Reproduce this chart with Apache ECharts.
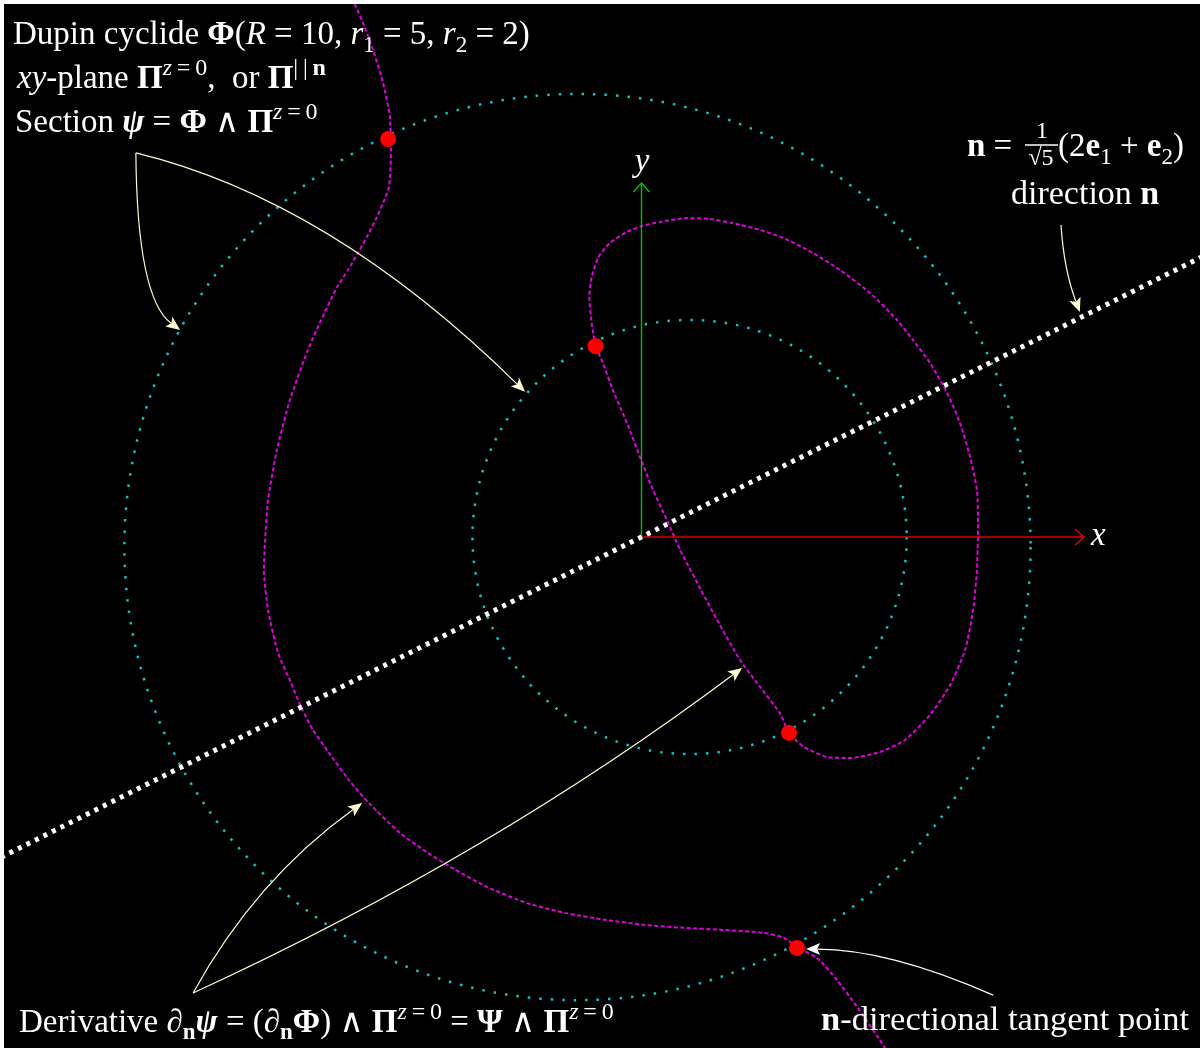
<!DOCTYPE html>
<html>
<head>
<meta charset="utf-8">
<script src="https://cdn.jsdelivr.net/npm/echarts@6/dist/echarts.min.js"></script>
<style>
  html, body { margin: 0; padding: 0; background: #fff; }
  #main { width: 1203px; height: 1048px; }
</style>
</head>
<body>
<div id="main"></div>
<script>
// ---- data (plane coordinates, units of the xy-plane) ----

// Section of the cyclide with the xy-plane: two circles [centerX, centerY, radius]
const sectionCircles = [
  [-2.17, -0.34, 15.36],
  [1.63, 0.00, 7.36]
];

// Derivative curve, outer branch (enters at the top, leaves at the bottom)
const derivativeOuter = [
  [-9.81, 18.27], [-9.44, 17.42], [-9.10, 16.51], [-8.76, 15.39], [-8.53, 14.24],
  [-8.49, 13.12], [-8.56, 11.86], [-8.76, 11.32], [-8.97, 10.85], [-9.31, 10.17],
  [-9.61, 9.63], [-9.95, 9.05], [-10.32, 8.47], [-10.86, 7.36], [-11.31, 6.34],
  [-11.92, 4.64], [-12.36, 2.95], [-12.66, 1.25], [-12.76, -0.10], [-12.80, -1.12],
  [-12.66, -2.47], [-12.32, -3.93], [-11.92, -4.85], [-11.54, -5.76], [-11.14, -6.54],
  [-10.59, -7.32], [-9.92, -8.24], [-9.24, -9.02], [-8.19, -10.03], [-7.24, -10.71],
  [-6.29, -11.29], [-5.24, -11.86], [-3.88, -12.41], [-2.56, -12.75], [-1.20, -12.98],
  [0.12, -13.15], [1.47, -13.25], [2.80, -13.32], [4.15, -13.42], [4.83, -13.59],
  [5.31, -13.93], [5.95, -14.27], [6.63, -15.02], [7.31, -15.93], [8.08, -17.05],
  [8.29, -17.39]
];

// Derivative curve, closed inner loop
const derivativeLoop = [
  [-1.56, 6.47], [-1.69, 7.25], [-1.77, 8.14], [-1.69, 8.81], [-1.46, 9.49],
  [-1.07, 9.97], [-0.50, 10.34], [0.01, 10.54], [0.63, 10.68], [1.53, 10.81],
  [2.32, 10.78], [3.10, 10.64], [4.02, 10.41], [4.80, 10.14], [5.81, 9.63],
  [6.73, 9.05], [7.75, 8.27], [8.66, 7.36], [9.20, 6.68], [9.78, 5.90],
  [10.36, 4.88], [10.80, 3.86], [11.14, 2.71], [11.37, 1.59], [11.41, 0.47],
  [11.37, -1.12], [11.24, -2.47], [10.97, -3.83], [10.46, -5.02], [9.78, -6.03],
  [8.93, -6.88], [8.08, -7.29], [7.10, -7.49], [6.29, -7.46], [5.51, -7.12],
  [5.00, -6.64], [4.69, -5.97], [4.02, -5.08], [3.34, -4.17], [2.56, -2.81],
  [2.02, -1.80], [1.31, -0.44], [0.86, 0.58], [0.39, 1.59], [-0.05, 2.71],
  [-0.49, 3.86], [-0.97, 4.98], [-1.31, 5.90], [-1.56, 6.47]
];

// n-directional tangent points (section meets derivative)
const tangentPoints = [
  [-8.59, 13.49], [-1.56, 6.47], [5.00, -6.64], [5.27, -13.93]
];

// Line through the origin along n = (2, 1)/sqrt(5)
const directionLine = [[-22.0, -11.0], [19.5, 9.75]];

// Coordinate axes: [fromX, fromY, toX, toY]
const xAxisArrow = [[0, 0, 15, 0]];
const yAxisArrow = [[0, 0, 0, 12]];

// Callout arrows: [startX, startY, controlX, controlY, endX, endY]
const sectionCallouts = [
  [-17.14, 13.02, -17.10, 8.10, -15.64, 7.02],
  [-17.14, 13.02, -10.56, 11.42, -3.95, 4.92]
];
const derivativeCallouts = [
  [-15.20, -15.46, -13.10, -11.63, -9.47, -9.02],
  [-15.20, -15.46, -5.07, -10.80, 3.41, -4.44]
];
const directionCallout = [[14.22, 10.58, 14.32, 9.05, 14.86, 7.63]];
const tangentCallout = [[11.92, -15.53, 8.37, -13.97, 5.58, -13.97]];

// ---- view ----
const W = 1203, H = 1048;
const ORIGIN_PX = [641.5, 537];
const UNIT_PX = 29.5;

const FONT = '"Liberation Serif", "DejaVu Serif", serif';
const TS = '\u2009';   // thin space used inside superscripts
function makeRich(size) {
  const base = { fontFamily: FONT, fill: '#fff', fontSize: size, lineHeight: 44 };
  const sup = { fontFamily: FONT, fill: '#fff', fontSize: 24, lineHeight: 26, verticalAlign: 'top' };
  const sub = { fontFamily: FONT, fill: '#fff', fontSize: 23, lineHeight: 26, verticalAlign: 'bottom' };
  return {
    t: base,
    i: Object.assign({}, base, { fontStyle: 'italic' }),
    b: Object.assign({}, base, { fontWeight: 'bold' }),
    bi: Object.assign({}, base, { fontWeight: 'bold', fontStyle: 'italic' }),
    sp: sup,
    spi: Object.assign({}, sup, { fontStyle: 'italic' }),
    spb: Object.assign({}, sup, { fontWeight: 'bold' }),
    sb: sub,
    sbb: Object.assign({}, sub, { fontWeight: 'bold' })
  };
}

function label(x, baseline, text, align, size) {
  const s = size || 33;
  return {
    type: 'text', x: x, y: baseline - 33, z: 100, silent: true,
    style: {
      text: text, rich: makeRich(s), fill: '#fff', fontFamily: FONT, fontSize: s,
      align: align || 'left', verticalAlign: 'top'
    }
  };
}
function plainText(x, baseline, text, size, align) {
  return {
    type: 'text', x: x, y: baseline - 0.3375 * size, z: 100, silent: true,
    style: {
      text: text, fill: '#fff', fontFamily: FONT, fontSize: size,
      align: align || 'center', verticalAlign: 'middle'
    }
  };
}

// curved callout with a filled stealth head at the end
function calloutRenderer(color, width) {
  return function (params, api) {
    const p0 = api.coord([api.value(0), api.value(1)]);
    const pc = api.coord([api.value(2), api.value(3)]);
    const p1 = api.coord([api.value(4), api.value(5)]);
    let dx = p1[0] - pc[0], dy = p1[1] - pc[1];
    const len = Math.hypot(dx, dy); dx /= len; dy /= len;
    const nx = -dy, ny = dx;
    const L = 14, Wd = 6, N = 3;
    const bx = p1[0] - L * dx, by = p1[1] - L * dy;
    const inner = [p1[0] - (L - N) * dx, p1[1] - (L - N) * dy];
    return {
      type: 'group',
      children: [
        {
          type: 'bezierCurve',
          shape: { x1: p0[0], y1: p0[1], cpx1: pc[0], cpy1: pc[1], x2: inner[0], y2: inner[1] },
          style: { fill: null, stroke: color, lineWidth: width }
        },
        {
          type: 'polygon',
          shape: { points: [[p1[0], p1[1]], [bx + Wd * nx, by + Wd * ny], inner, [bx - Wd * nx, by - Wd * ny]] },
          style: { fill: color, stroke: null }
        }
      ]
    };
  };
}

// straight axis arrow with an open chevron head
function axisRenderer(color) {
  return function (params, api) {
    const p0 = api.coord([api.value(0), api.value(1)]);
    const p1 = api.coord([api.value(2), api.value(3)]);
    let dx = p1[0] - p0[0], dy = p1[1] - p0[1];
    const len = Math.hypot(dx, dy); dx /= len; dy /= len;
    const nx = -dy, ny = dx;
    const L = 9, Wd = 8;
    return {
      type: 'group',
      children: [
        { type: 'line', shape: { x1: p0[0], y1: p0[1], x2: p1[0], y2: p1[1] },
          style: { stroke: color, lineWidth: 1.4 } },
        { type: 'polyline',
          shape: { points: [[p1[0] - L * dx + Wd * nx, p1[1] - L * dy + Wd * ny], p1,
                            [p1[0] - L * dx - Wd * nx, p1[1] - L * dy - Wd * ny]] },
          style: { stroke: color, lineWidth: 1.4, fill: null } }
      ]
    };
  };
}

const chart = echarts.init(document.getElementById('main'), null, { renderer: 'canvas' });

chart.setOption({
  backgroundColor: '#000',
  animation: false,
  grid: { left: 0, right: 0, top: 0, bottom: 0, containLabel: false, outerBoundsMode: 'none' },
  xAxis: {
    type: 'value', show: false,
    min: -ORIGIN_PX[0] / UNIT_PX, max: (W - ORIGIN_PX[0]) / UNIT_PX
  },
  yAxis: {
    type: 'value', show: false,
    min: -(H - ORIGIN_PX[1]) / UNIT_PX, max: ORIGIN_PX[1] / UNIT_PX
  },
  series: [
    {
      name: 'section', type: 'custom', coordinateSystem: 'cartesian2d', z: 1, clip: true,
      data: sectionCircles,
      renderItem: function (params, api) {
        const c = api.coord([api.value(0), api.value(1)]);
        const r = api.size([api.value(2), 0])[0];
        return {
          type: 'circle', shape: { cx: c[0], cy: c[1], r: r },
          style: { fill: null, stroke: '#12c2c2', lineWidth: 2.5, lineDash: [2.5, 9] }
        };
      }
    },
    {
      name: 'derivative', type: 'line', z: 2, data: derivativeOuter,
      showSymbol: false, symbol: 'none', smooth: 0.2,
      lineStyle: { color: '#e000e0', width: 2, type: [4, 2.5] }
    },
    {
      name: 'derivative loop', type: 'line', z: 2, data: derivativeLoop,
      showSymbol: false, symbol: 'none', smooth: 0.2,
      lineStyle: { color: '#e000e0', width: 2, type: [4, 2.5] }
    },
    {
      name: 'x axis', type: 'custom', coordinateSystem: 'cartesian2d', z: 3, clip: false,
      data: xAxisArrow, renderItem: axisRenderer('#e00000')
    },
    {
      name: 'y axis', type: 'custom', coordinateSystem: 'cartesian2d', z: 3, clip: false,
      data: yAxisArrow, renderItem: axisRenderer('#00c000')
    },
    {
      name: 'direction n', type: 'line', z: 4, data: directionLine,
      showSymbol: false, symbol: 'none',
      lineStyle: { color: '#ffffff', width: 5, type: [4, 5.5], cap: 'butt' }
    },
    {
      name: 'tangent points', type: 'scatter', z: 5, data: tangentPoints,
      symbol: 'circle', symbolSize: 16, itemStyle: { color: '#ff0000', opacity: 1 }
    },
    {
      name: 'section callouts', type: 'custom', coordinateSystem: 'cartesian2d', z: 6, clip: false,
      data: sectionCallouts, renderItem: calloutRenderer('#fdfbd2', 1.2)
    },
    {
      name: 'derivative callouts', type: 'custom', coordinateSystem: 'cartesian2d', z: 6, clip: false,
      data: derivativeCallouts, renderItem: calloutRenderer('#fdfbd2', 1.2)
    },
    {
      name: 'direction callout', type: 'custom', coordinateSystem: 'cartesian2d', z: 6, clip: false,
      data: directionCallout, renderItem: calloutRenderer('#fdfbd2', 1.2)
    },
    {
      name: 'tangent callout', type: 'custom', coordinateSystem: 'cartesian2d', z: 6, clip: false,
      data: tangentCallout, renderItem: calloutRenderer('#ffffff', 1.2)
    }
  ],
  graphic: {
    elements: [
      // thin white frame
      { type: 'rect', z: 200, silent: true, shape: { x: 0, y: 0, width: W, height: 4 }, style: { fill: '#fff' } },
      { type: 'rect', z: 200, silent: true, shape: { x: 0, y: 0, width: 4, height: H }, style: { fill: '#fff' } },
      { type: 'rect', z: 200, silent: true, shape: { x: W - 3, y: 0, width: 3, height: H }, style: { fill: '#fff' } },

      label(13, 46, '{t|Dupin cyclide }{b|Φ}{t|(}{i|R}{t| = 10, }{i|r}{sb|1}{t| = 5, }{i|r}{sb|2}{t| = 2)}'),
      label(17, 90, '{i|xy}{t|-plane }{b|Π}{spi|z}{sp|' + TS + '=' + TS + '0}{t|,\u2002or }{b|Π}{sp||' + TS + '|' + TS + '}{spb|n}'),
      label(15, 134, '{t|Section }{bi|ψ}{t| = }{b|Φ}{t| ∧ }{b|Π}{spi|z}{sp|' + TS + '=' + TS + '0}'),

      label(967, 158, '{b|n}{t| =}'),
      plainText(1042, 140, '1', 24),
      { type: 'line', z: 100, silent: true, shape: { x1: 1025, y1: 145, x2: 1058, y2: 145 },
        style: { stroke: '#fff', lineWidth: 1.3 } },
      plainText(1041, 167, '√5', 24),
      label(1058, 158, '{t|(2}{b|e}{sb|1}{t| + }{b|e}{sb|2}{t|)}'),
      label(1011, 206, '{t|direction }{b|n}', 'left', 34),

      label(19, 1034, '{t|Derivative }{i|∂}{sbb|n}{bi|ψ}{t| = (}{i|∂}{sbb|n}{b|Φ}{t|) ∧ }{b|Π}{spi|z}{sp|' + TS + '=' + TS + '0}{t| = }{b|Ψ}{t| ∧ }{b|Π}{spi|z}{sp|' + TS + '=' + TS + '0}'),
      label(1189, 1032, '{b|n}{t|-directional tangent point}', 'right', 34.5),

      label(1091, 547, '{i|x}'),
      label(642, 173, '{i|y}', 'center')
    ]
  }
});
</script>
</body>
</html>
